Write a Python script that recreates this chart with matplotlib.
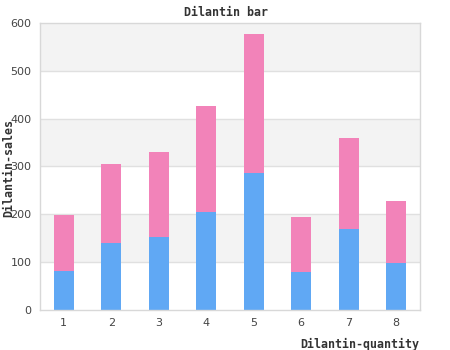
import matplotlib
matplotlib.use("Agg")
import matplotlib.pyplot as plt

categories = ["1", "2", "3", "4", "5", "6", "7", "8"]
series_blue = [82, 140, 153, 205, 286, 79, 169, 98]
series_pink = [117, 165, 178, 221, 291, 115, 191, 130]
y_ticks = [0, 100, 200, 300, 400, 500, 600]

fig = plt.figure(figsize=(4.5, 3.5), dpi=100)
ax = fig.add_axes([40/450, 40/350, 380/450, 287/350])

x = list(range(1, len(categories) + 1))
for i in range(0, 6):
    if i % 2 == 1:
        ax.axhspan(y_ticks[i], y_ticks[i + 1], color="#f3f3f3", zorder=0, lw=0)
for t in y_ticks[1:-1]:
    ax.axhline(t, color="#e0e0e0", lw=1, zorder=1)

ax.bar(x, series_blue, width=0.42, color="#60a8f4", zorder=2)
ax.bar(x, series_pink, width=0.42, bottom=series_blue, color="#f283b9", zorder=2)

ax.set_xlim(0.5, 8.5)
ax.set_ylim(0, 600)
ax.set_xticks(x)
ax.set_xticklabels(categories)
ax.set_yticks(y_ticks)
ax.tick_params(length=0, labelsize=8, colors="#444444", pad=6)
for s in ax.spines.values():
    s.set_color("#d8d8d8")
    s.set_linewidth(1)

mono = dict(family="DejaVu Sans Mono", weight="bold", size=8.4, color="#333333")
fig.text(226/450, 1 - 13/350, "Dilantin bar", ha="center", va="center", **mono)
fig.text(419/450, 1 - 344/350, "Dilantin-quantity", ha="right", va="center", **mono)
fig.text(9/450, 1 - 168/350, "Dilantin-sales", ha="center", va="center", rotation=90, **mono)

fig.savefig("out.png", dpi=100)
